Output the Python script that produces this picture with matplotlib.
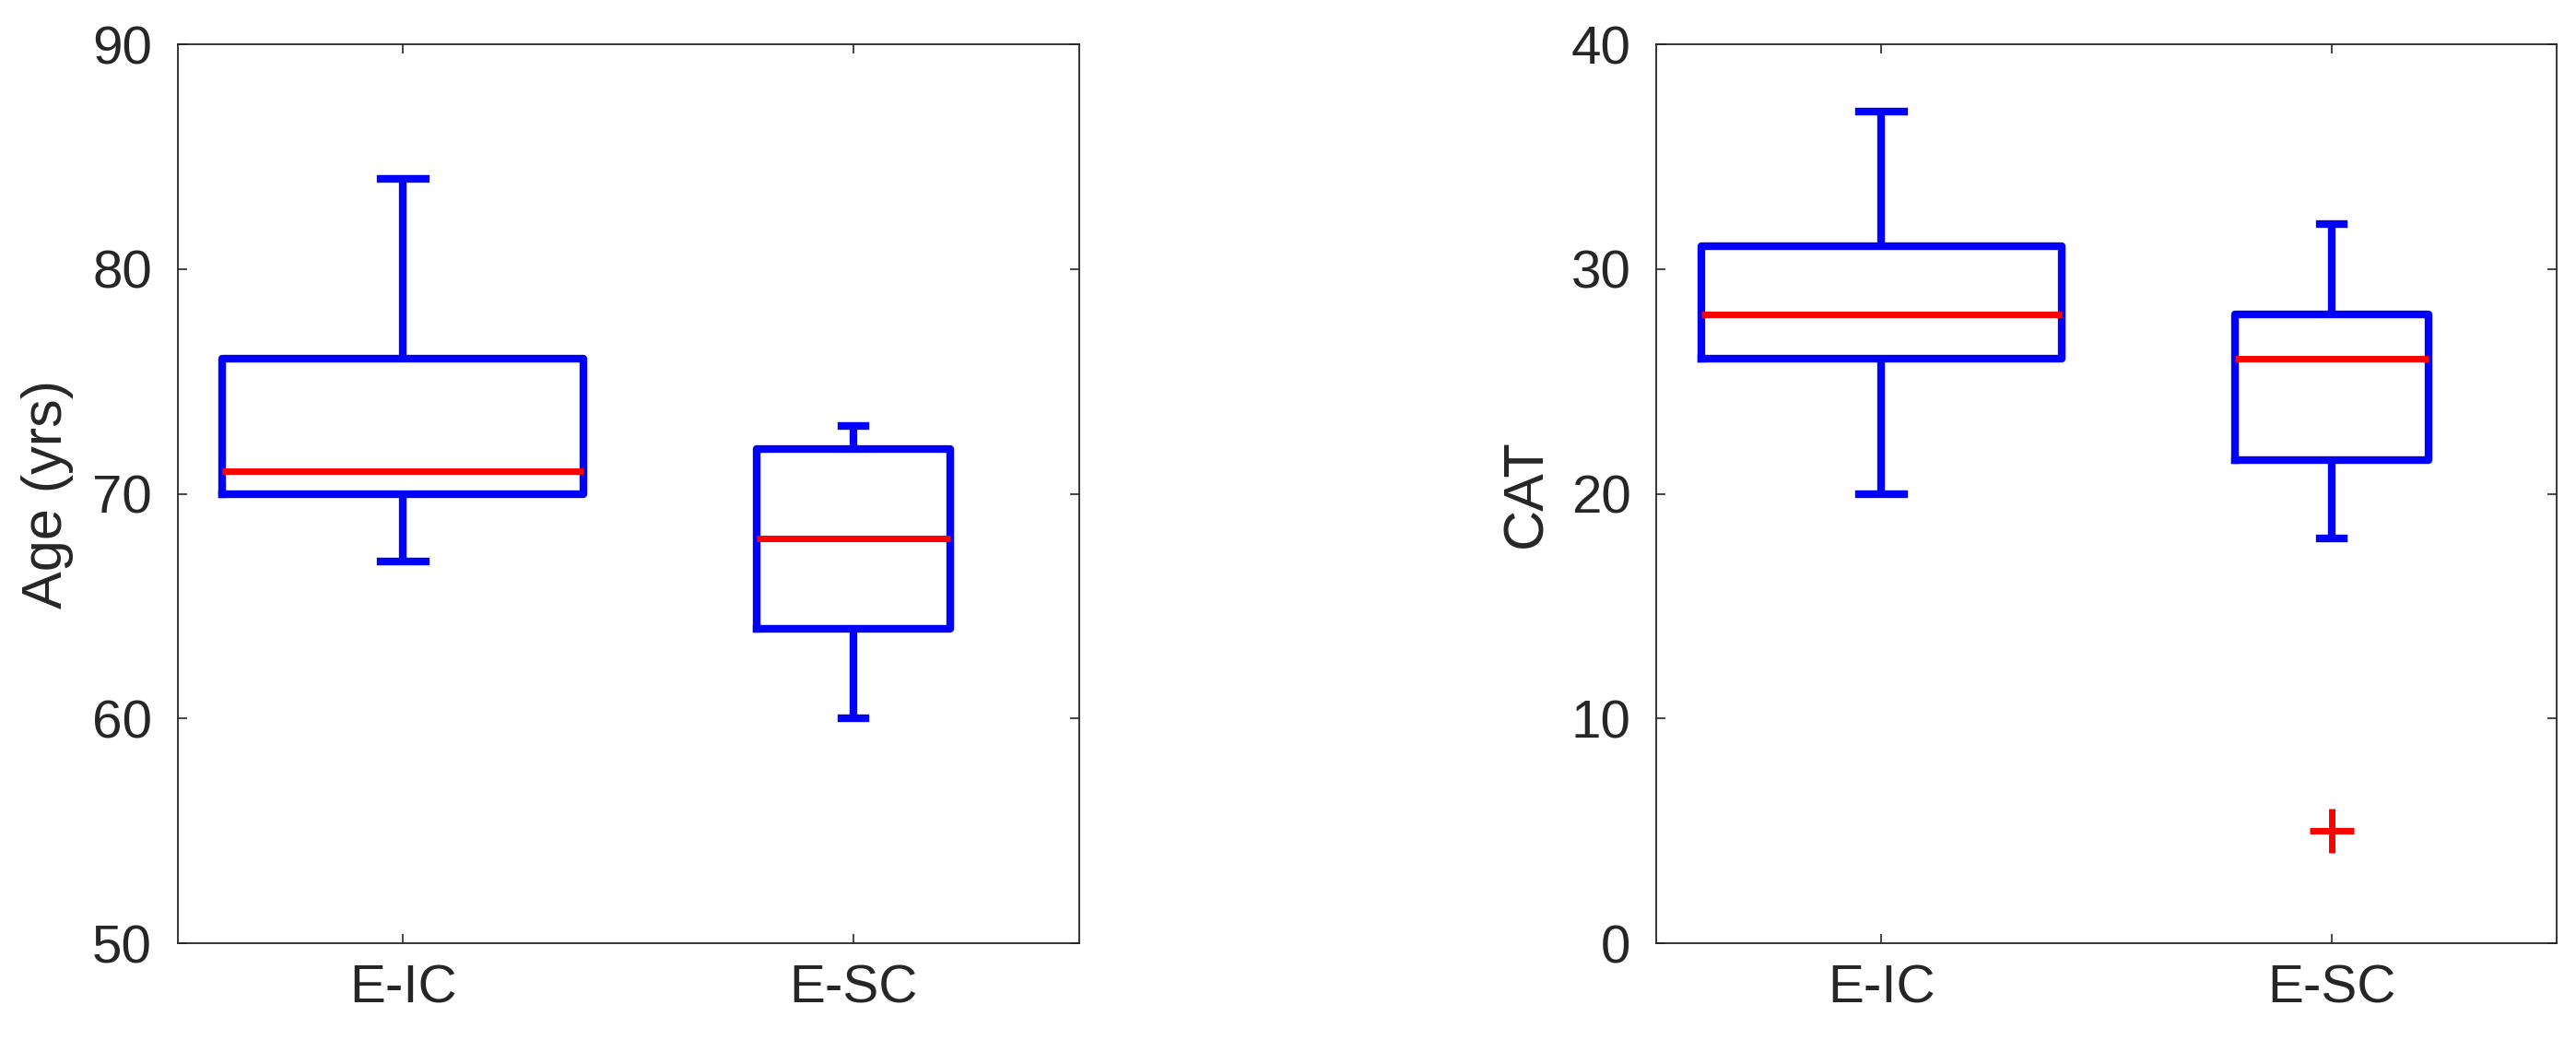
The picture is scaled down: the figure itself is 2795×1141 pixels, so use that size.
import matplotlib
matplotlib.use('Agg')
import matplotlib.pyplot as plt

plt.rcParams['font.family'] = ['Liberation Sans', 'DejaVu Sans']

groups = ['E-IC', 'E-SC']

# Age (yrs): [low whisker, q1, median, q3, high whisker]
age_stats = [[67, 70, 71, 76, 84], [60, 64, 68, 72, 73]]
age_fliers = [[], []]

# CAT score
cat_stats = [[20, 26, 28, 31, 37], [18, 21.5, 26, 28, 32]]
cat_fliers = [[], [5]]

box_widths = [0.8, 0.43]

edge = '#262626'


def make_stats(stats, fliers):
    out = []
    for (lo, q1, med, q3, hi), fl in zip(stats, fliers):
        out.append(dict(whislo=lo, q1=q1, med=med, q3=q3, whishi=hi, fliers=fl))
    return out


def draw_box(ax, stats, fliers, ylim, yticks, ylabel):
    ax.bxp(make_stats(stats, fliers), positions=[1, 2], widths=box_widths,
           capwidths=[w / 8 for w in box_widths], showfliers=True,
           boxprops=dict(color='#0000ff', linewidth=6),
           whiskerprops=dict(color='#0000ff', linewidth=6, solid_capstyle='butt'),
           capprops=dict(color='#0000ff', linewidth=6),
           medianprops=dict(color='#ff0000', linewidth=5),
           flierprops=dict(marker='+', markeredgecolor='#ff0000', markersize=34,
                           markeredgewidth=5, linestyle='none'))
    ax.set_xlim(0.5, 2.5)
    ax.set_ylim(*ylim)
    ax.set_yticks(yticks)
    ax.set_xticks([1, 2])
    ax.set_xticklabels(groups)
    ax.set_ylabel(ylabel, fontsize=44, color=edge, labelpad=14)
    ax.tick_params(direction='in', length=7, width=1.2, colors=edge,
                   labelsize=42, top=True, right=True, pad=20)
    ax.tick_params(axis='x', pad=16)
    for s in ax.spines.values():
        s.set_color(edge)
        s.set_linewidth(1.3)


fig = plt.figure(figsize=(27.95, 11.41), dpi=100)
ax1 = fig.add_axes([0.0689, 0.1034, 0.350, 0.8545])
ax2 = fig.add_axes([0.643, 0.1034, 0.3496, 0.8545])

draw_box(ax1, age_stats, age_fliers, (50, 90), [50, 60, 70, 80, 90], 'Age (yrs)')
draw_box(ax2, cat_stats, cat_fliers, (0, 40), [0, 10, 20, 30, 40], 'CAT')

fig.savefig('out.png', dpi=100, facecolor='white')
